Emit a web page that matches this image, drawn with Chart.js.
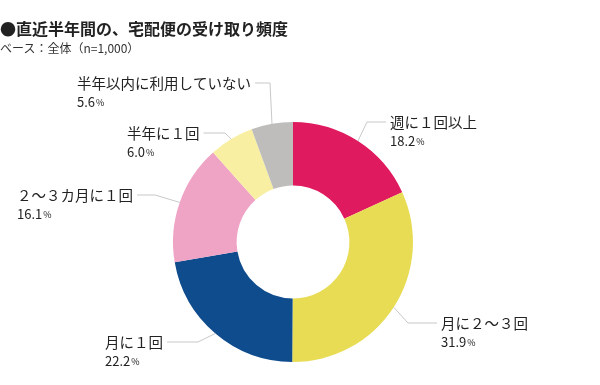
<!DOCTYPE html>
<html lang="ja">
<head>
<meta charset="utf-8">
<script src="https://cdn.jsdelivr.net/npm/chart.js@4.4.1/dist/chart.umd.min.js"></script>
<style>
  html, body { margin: 0; padding: 0; background: #fff; }
  #wrap { position: relative; width: 600px; height: 385px; }
  #chart { position: absolute; left: 0; top: 0; }
  .title {
    position: absolute; left: 0; top: 16px;
    font: bold 16px "Noto Sans CJK JP", sans-serif; color: #222; white-space: nowrap;
  }
  .sub {
    position: absolute; left: 0; top: 39px;
    font: 12px "Noto Sans CJK JP", sans-serif; color: #333; white-space: nowrap;
  }
</style>
</head>
<body>
<div id="wrap">
  <canvas id="chart" width="600" height="385"></canvas>
  <div class="title">●直近半年間の、宅配便の受け取り頻度</div>
  <div class="sub">ベース：全体（n=1,000）</div>
</div>
<script>
// ── Data ────────────────────────────────────────────────────
const categories = ['週に１回以上', '月に２～３回', '月に１回', '２～３カ月に１回', '半年に１回', '半年以内に利用していない'];
const shares     = [18.2, 31.9, 22.2, 16.1, 6.0, 5.6];
const colors     = ['#E01A5E', '#E8DC55', '#0F4C8E', '#EFA3C5', '#F8EFA2', '#BEBDBB'];

// label layout, offsets from doughnut centre: text x, text y, elbow x
const labelLayout = [
    { dx:   97, dy: -120, ex:   74 },
    { dx:  148, dy:   81, ex:  115 },
    { dx: -188, dy:  100, ex:  -95 },
    { dx: -276, dy:  -47, ex: -138 },
    { dx: -166, dy: -109, ex:  -68 },
    { dx: -216, dy: -159, ex:  -23 }
];

const FONT = '"Noto Sans CJK JP", sans-serif';

// ── Leader lines + labels ───────────────────────────────────
const leaderLabels = {
    id: 'leaderLabels',
    afterDatasetsDraw(chart) {
        const ctx = chart.ctx;
        const arcs = chart.getDatasetMeta(0).data;
        ctx.save();
        arcs.forEach((arc, i) => {
            const lay = labelLayout[i];
            const mid = (arc.startAngle + arc.endAngle) / 2;
            const px = arc.x + Math.cos(mid) * arc.outerRadius;
            const py = arc.y + Math.sin(mid) * arc.outerRadius;
            const tx = arc.x + lay.dx;
            const ty = arc.y + lay.dy;
            const ex = arc.x + lay.ex;

            ctx.font = '14.5px ' + FONT;
            const w = ctx.measureText(categories[i]).width;
            const right = lay.dx > 0;
            const endX = right ? tx - 4 : tx + w + 4;

            ctx.strokeStyle = '#c8c8c8';
            ctx.lineWidth = 1;
            ctx.beginPath();
            ctx.moveTo(px, py);
            ctx.lineTo(ex, ty);
            ctx.lineTo(endX, ty);
            ctx.stroke();

            ctx.fillStyle = '#222';
            ctx.textBaseline = 'middle';
            ctx.textAlign = 'left';
            ctx.fillText(categories[i], tx, ty);

            const num = shares[i].toFixed(1);
            ctx.font = '13px ' + FONT;
            ctx.fillText(num, tx, ty + 19);
            const nw = ctx.measureText(num).width;
            ctx.font = '9px ' + FONT;
            ctx.fillText('%', tx + nw + 1, ty + 20);
        });
        ctx.restore();
    }
};

new Chart(document.getElementById('chart').getContext('2d'), {
    type: 'doughnut',
    data: {
        labels: categories,
        datasets: [{
            data: shares,
            backgroundColor: colors,
            borderWidth: 0
        }]
    },
    options: {
        responsive: false,
        animation: false,
        cutout: '47%',
        layout: { padding: { left: 173, right: 187, top: 122, bottom: 23 } },
        plugins: {
            legend: { display: false },
            tooltip: { enabled: false }
        }
    },
    plugins: [leaderLabels]
});
</script>
</body>
</html>
